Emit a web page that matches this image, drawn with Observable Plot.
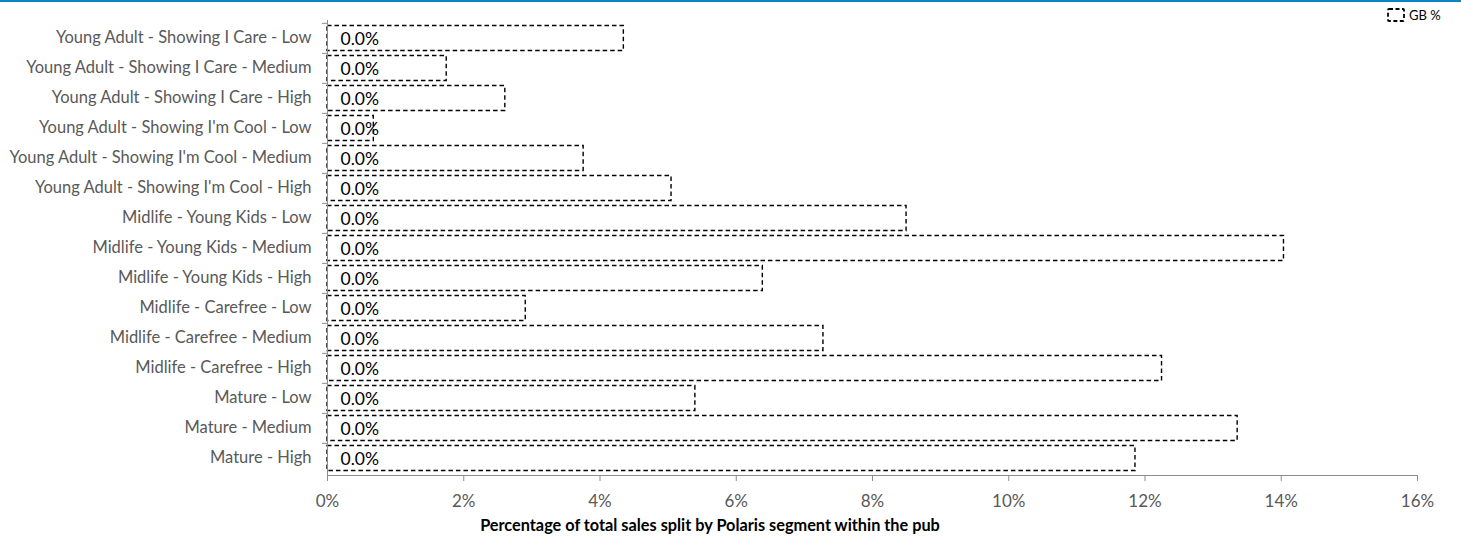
<!DOCTYPE html>
<html><head><meta charset="utf-8">
<script src="https://cdn.jsdelivr.net/npm/d3@7"></script>
<script src="https://cdn.jsdelivr.net/npm/@observablehq/plot@0.6"></script>
<style>
body{margin:0;background:#fff;font-family:Lato,sans-serif;}
#wrap{position:relative;width:1461px;height:541px;overflow:hidden;}
#topline{position:absolute;left:0;top:0;width:1461px;height:2px;background:#0a84c6;}
#legend{position:absolute;left:1387px;top:7px;font-size:13px;color:#000;display:flex;align-items:center;gap:4px;}
#xtitle{position:absolute;left:360px;width:700px;text-align:center;top:515px;font-size:16.3px;font-weight:bold;color:#000;}
</style></head><body>
<div id="wrap"><div id="chart"></div><div id="topline"></div>
<div id="legend"><svg width="18" height="14"><rect x="1" y="1" width="16" height="12" rx="1" fill="white" stroke="#000" stroke-width="1.8" stroke-dasharray="4,2.5"/></svg><span>GB %</span></div>
<div id="xtitle">Percentage of total sales split by Polaris segment within the pub</div></div>
<script>
const categories = [
  "Young Adult - Showing I Care - Low",
  "Young Adult - Showing I Care - Medium",
  "Young Adult - Showing I Care - High",
  "Young Adult - Showing I'm Cool - Low",
  "Young Adult - Showing I'm Cool - Medium",
  "Young Adult - Showing I'm Cool - High",
  "Midlife - Young Kids - Low",
  "Midlife - Young Kids - Medium",
  "Midlife - Young Kids - High",
  "Midlife - Carefree - Low",
  "Midlife - Carefree - Medium",
  "Midlife - Carefree - High",
  "Mature - Low",
  "Mature - Medium",
  "Mature - High"
];
const gbPercent = [0.0435, 0.0175, 0.0261, 0.0068, 0.0376, 0.0505, 0.0850, 0.1404, 0.0639, 0.0291, 0.0728, 0.1225, 0.0540, 0.1336, 0.1186];
const pubLabels = ["0.0%","0.0%","0.0%","0.0%","0.0%","0.0%","0.0%","0.0%","0.0%","0.0%","0.0%","0.0%","0.0%","0.0%","0.0%"];
const xTicks = [0, 0.02, 0.04, 0.06, 0.08, 0.10, 0.12, 0.14, 0.16];

const data = categories.map((c, i) => ({cat: c, gb: gbPercent[i], label: pubLabels[i]}));
const H = 541, mt = 20, mb = 66;
const step = (H - mt - mb) / categories.length;

const chart = Plot.plot({
  width: 1461, height: H,
  marginLeft: 327, marginRight: 44, marginTop: mt, marginBottom: mb,
  style: {fontFamily: "Lato, sans-serif", background: "transparent"},
  x: {domain: [0, 0.16]},
  y: {domain: categories, padding: 0},
  marks: [
    Plot.barX(data, {x: "gb", y: "cat", fill: "white", stroke: "#000", strokeWidth: 1.4, strokeDasharray: "4.5,3", insetTop: 2.5, insetBottom: 2.5}),
    Plot.text(data, {x: 0, y: "cat", text: "label", dx: 13, dy: 1, textAnchor: "start", fontSize: 17.5, fill: "#000"}),
    Plot.frame({anchor: "left", stroke: "#8c8c8c"}),
    Plot.frame({anchor: "bottom", stroke: "#8c8c8c"}),
    Plot.axisY({tickSize: 5, dy: -step/2, text: null, stroke: "#8c8c8c", label: null}),
    Plot.axisY({tickSize: 0, tickPadding: 16, fontSize: 16.5, fill: "#595959", label: null, dy: -1}),
    Plot.axisX({ticks: xTicks, tickSize: 6, tickPadding: 13, tickFormat: d => Math.round(d*100) + "%", fontSize: 17, fill: "#595959", stroke: "#8c8c8c", label: null})
  ]
});
document.getElementById("chart").appendChild(chart);
</script></body></html>
